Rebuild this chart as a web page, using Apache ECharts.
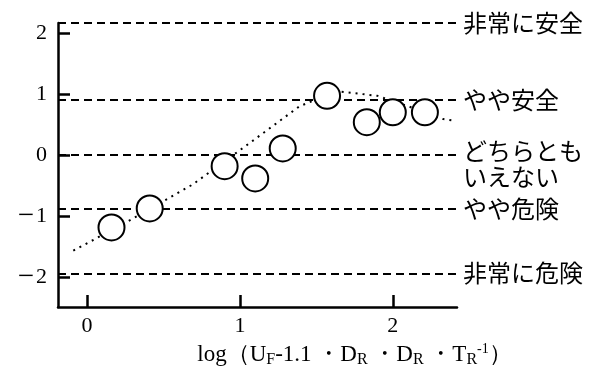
<!DOCTYPE html>
<html><head><meta charset="utf-8">
<script src="https://cdn.jsdelivr.net/npm/echarts@6/dist/echarts.min.js"></script>
<style>html,body{margin:0;padding:0;background:#fff}#c{width:605px;height:366px}</style>
</head><body><div id="c"></div>
<script>
// ---- data ----
const xTicks = [0, 1, 2];
const yTicks = [-2, -1, 0, 1, 2];
const xRange = [-0.19, 2.42];
const yRange = [-2.48, 2.16];
const points = [[0.16,-1.18],[0.41,-0.87],[0.90,-0.18],[1.10,-0.38],[1.28,0.11],[1.57,0.97],[1.83,0.54],[2.00,0.70],[2.21,0.70]];
const trendRise = [[-0.09,-1.56],[0.29,-1.05],[0.69,-0.48],[1.07,0.21],[1.39,0.80],[1.56,0.97]];
const trendFall = [[1.62,1.05],[1.90,0.97],[2.10,0.80],[2.33,0.59],[2.41,0.56]];
const levelValues = [2.16, 0.90, 0.00, -0.87, -1.93];
const levelLabels = ['非常に安全','やや安全','どちらとも\nいえない','やや危険','非常に危険'];

const serif = '"Liberation Serif", "Times New Roman", serif';
const cjk = '"Noto Sans CJK JP", sans-serif';
const ink = '#000';

function levelLabel(p) {
  const lines = p.name.split('\n');
  if (lines.length === 1) return '{t|' + p.name + '}';
  return '{g| }\n' + lines.map(s => '{u|' + s + '}').join('\n');
}

const chart = echarts.init(document.getElementById('c'), null, {renderer:'canvas'});
chart.setOption({
  animation: false,
  backgroundColor: '#fff',
  grid: {left: 58, right: 148, top: 23, bottom: 59, containLabel: false, outerBoundsMode: 'none'},
  xAxis: {
    type: 'value', min: xRange[0], max: xRange[1],
    splitLine: {show: false},
    axisLine: {onZero: false, lineStyle: {color: ink, width: 2.5}},
    axisTick: {show: true, inside: true, length: 12, customValues: xTicks, lineStyle: {color: ink, width: 2.5}},
    axisLabel: {customValues: xTicks, margin: 8, fontFamily: serif, fontSize: 22, color: ink},
    name: 'log（U{s|F}-1.1 ・D{s|R} ・D{s|R} ・T{s|R}{p|-1}）',
    nameLocation: 'middle', nameGap: 30,
    nameTextStyle: {
      fontFamily: serif, fontSize: 23, color: ink, padding: [0,0,0,194], lineHeight: 26,
      rich: {
        s: {fontFamily: serif, fontSize: 16, color: ink, verticalAlign: 'bottom', lineHeight: 22},
        p: {fontFamily: serif, fontSize: 14, color: ink, verticalAlign: 'top', lineHeight: 18}
      }
    }
  },
  yAxis: {
    type: 'value', min: yRange[0], max: yRange[1],
    splitLine: {show: false},
    axisLine: {onZero: false, lineStyle: {color: ink, width: 2.5}},
    axisTick: {show: true, inside: true, length: 12, customValues: yTicks, lineStyle: {color: ink, width: 2.5}},
    axisLabel: {customValues: yTicks, margin: 11, fontFamily: serif, fontSize: 22, color: ink,
      formatter: v => v < 0 ? '{m|−}' + Math.abs(v) : String(v),
      rich: {m: {fontFamily: serif, fontSize: 29, color: ink, verticalAlign: 'middle', padding: [0, 2, 0, 0]}}
    }
  },
  series: [
    {
      type: 'line', data: trendRise, symbol: 'none', silent: true, z: 2,
      lineStyle: {color: ink, width: 2, type: [2, 5]}
    },
    {
      type: 'line', data: trendFall, symbol: 'none', silent: true, z: 2,
      lineStyle: {color: ink, width: 2, type: [2, 5]}
    },
    {
      type: 'scatter', data: points, symbol: 'circle', symbolSize: 26, z: 5,
      itemStyle: {color: '#fff', borderColor: ink, borderWidth: 2, opacity: 1},
      markLine: {
        silent: true, symbol: 'none', z: 1,
        lineStyle: {color: ink, width: 2, type: [8, 5]},
        label: {show: true, position: 'end', distance: 6, fontFamily: cjk, fontSize: 24, color: ink,
          formatter: levelLabel,
          rich: {
            t: {fontFamily: cjk, fontSize: 24, color: ink, lineHeight: 30},
            u: {fontFamily: cjk, fontSize: 24, color: ink, lineHeight: 26},
            g: {fontSize: 2, lineHeight: 18}
          }
        },
        data: levelValues.map((v, i) => ({yAxis: v, name: levelLabels[i]}))
      }
    }
  ]
});
</script></body></html>
